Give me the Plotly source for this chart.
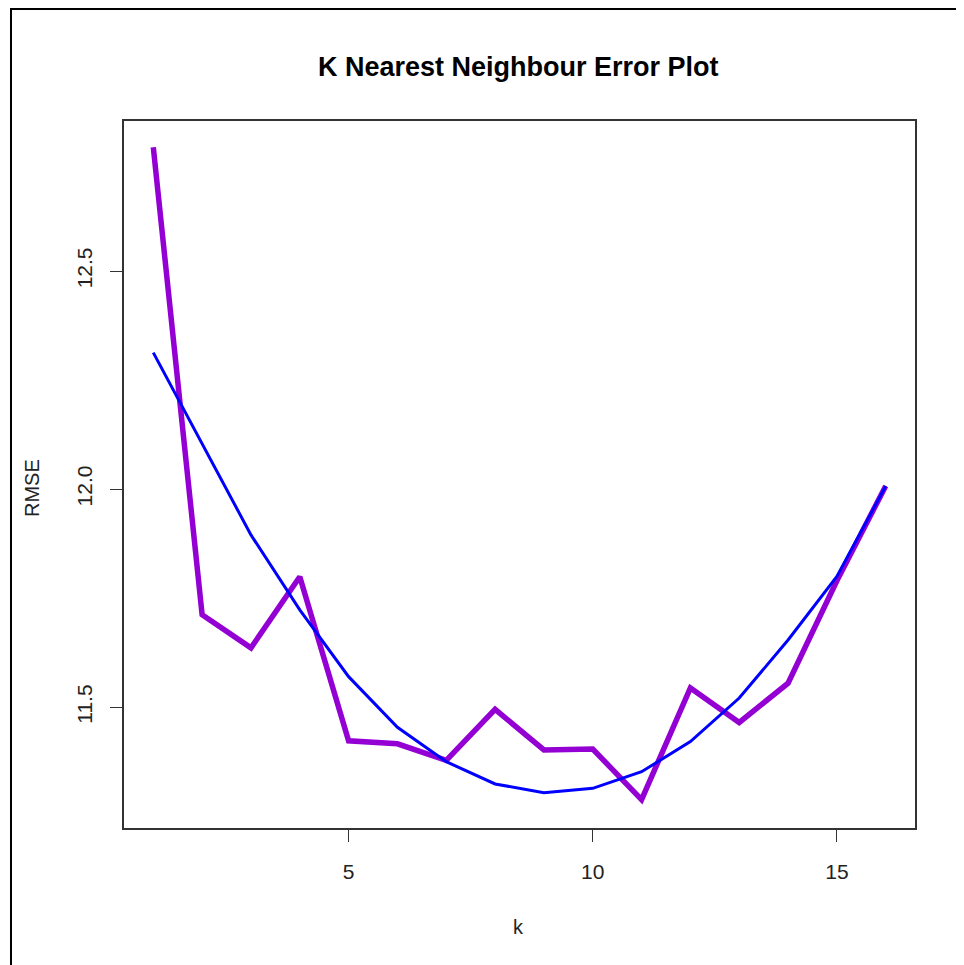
import plotly.graph_objects as go

k_values = list(range(1, 17))
rmse_observed = [12.784, 11.712, 11.636, 11.799, 11.423, 11.416, 11.378, 11.495,
                 11.402, 11.404, 11.288, 11.544, 11.465, 11.555, 11.790, 12.007]
rmse_fitted = [12.313, 12.103, 11.895, 11.723, 11.570, 11.454, 11.375, 11.324,
               11.304, 11.314, 11.352, 11.421, 11.521, 11.654, 11.800, 12.007]
x_ticks = [5, 10, 15]
y_ticks = [11.5, 12.0, 12.5]
y_tick_labels = ["11.5", "12.0", "12.5"]

FONT = "Liberation Sans, Arial, sans-serif"

fig = go.Figure()
fig.add_trace(go.Scatter(x=k_values, y=rmse_observed, mode="lines",
                         line=dict(color="#9400D3", width=5.5), showlegend=False))
fig.add_trace(go.Scatter(x=k_values, y=rmse_fitted, mode="lines",
                         line=dict(color="#0000FF", width=3), showlegend=False))

# page body has an 8px margin, so the figure is drawn offset by 8px
OFF = 8
W, H = 964 - OFF, 965 - OFF
L, R, T, B = 124 - OFF, 915 - OFF, 121 - OFF, 828 - OFF
pw, ph = R - L, B - T

def px(x):
    return (x - OFF - L) / pw

def py(y):
    return (B - (y - OFF)) / ph

axis_common = dict(showline=True, mirror=True, linecolor="#333333", linewidth=1.5,
                   ticks="outside", ticklen=12, tickwidth=1.2, tickcolor="#333333",
                   showgrid=False, zeroline=False,
                   tickfont=dict(family=FONT, size=21, color="#222222"))

fig.update_xaxes(range=[0.4, 16.6], tickvals=x_ticks, ticklabelstandoff=12, **axis_common)
fig.update_yaxes(range=[11.223, 12.844], tickvals=y_ticks, ticktext=y_tick_labels,
                 tickangle=-90, ticklabelstandoff=10, **axis_common)

fig.update_layout(
    width=W, height=H,
    margin=dict(l=L, r=W - R, t=T, b=H - B),
    plot_bgcolor="white", paper_bgcolor="white",
    annotations=[
        dict(text="<b>K Nearest Neighbour Error Plot</b>", xref="paper", yref="paper",
             x=px(518), y=py(67), showarrow=False, xanchor="center", yanchor="middle",
             font=dict(family=FONT, size=27, color="#000000")),
        dict(text="k", xref="paper", yref="paper", x=px(518), y=py(927), showarrow=False,
             xanchor="center", yanchor="middle", font=dict(family=FONT, size=20, color="#222222")),
        dict(text="RMSE", xref="paper", yref="paper", x=px(32), y=py(488), showarrow=False,
             textangle=-90, xanchor="center", yanchor="middle",
             font=dict(family=FONT, size=20, color="#222222")),
    ],
    shapes=[
        dict(type="line", xref="paper", yref="paper", x0=px(11), x1=px(11), y0=py(8), y1=py(980),
             line=dict(color="black", width=2)),
        dict(type="line", xref="paper", yref="paper", x0=px(11), x1=px(980), y0=py(9), y1=py(9),
             line=dict(color="black", width=2)),
    ],
)

fig.write_html("out.html")
